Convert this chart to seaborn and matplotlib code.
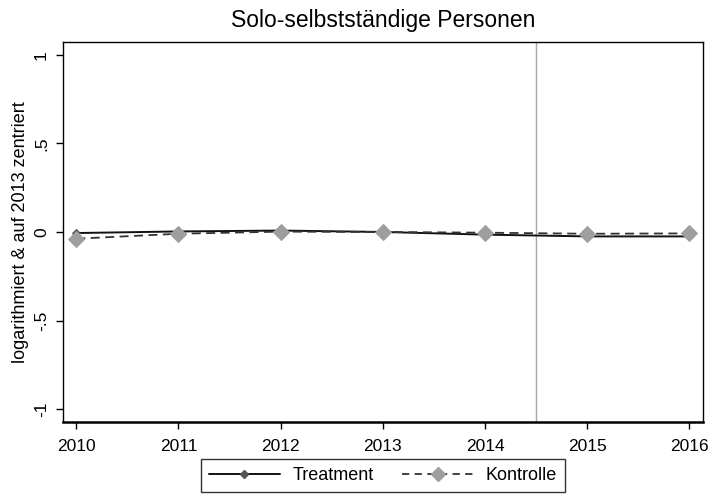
import matplotlib
matplotlib.use("Agg")
import matplotlib.pyplot as plt
import seaborn as sns
import pandas as pd
from matplotlib.lines import Line2D

years = [2010, 2011, 2012, 2013, 2014, 2015, 2016]
treatment = [-0.006, 0.003, 0.008, 0.0, -0.015, -0.025, -0.025]
kontrolle = [-0.038, -0.010, 0.002, 0.0, -0.004, -0.010, -0.008]
yticks = [-1, -0.5, 0, 0.5, 1]
yticklabels = ["-1", "-.5", "0", ".5", "1"]
cutoff = 2014.5

sns.set_theme(style="white")
plt.rcParams["font.family"] = ["Liberation Sans", "DejaVu Sans"]
plt.rcParams["text.color"] = "black"
plt.rcParams["axes.labelcolor"] = "black"
plt.rcParams["xtick.color"] = "black"
plt.rcParams["ytick.color"] = "black"

df_t = pd.DataFrame({"Jahr": years, "Wert": treatment})
df_k = pd.DataFrame({"Jahr": years, "Wert": kontrolle})

fig = plt.figure(figsize=(7.12, 4.97), dpi=100)
ax = fig.add_axes([0.0885, 0.151, 0.8985, 0.7645])

t_col, t_mk = "#111111", "#555555"
k_col, k_mk = "#333333", "#9e9e9e"

sns.lineplot(data=df_k, x="Jahr", y="Wert", ax=ax, color=k_col, lw=1.3,
             linestyle=(0, (5, 3)), marker="D", markersize=8,
             markerfacecolor=k_mk, markeredgecolor=k_mk, zorder=3)
sns.lineplot(data=df_t, x="Jahr", y="Wert", ax=ax, color=t_col, lw=1.4,
             marker="D", markersize=4.5, markerfacecolor=t_mk,
             markeredgecolor=t_mk, zorder=2)

ax.axvline(cutoff, color="#a8a8a8", lw=1, zorder=1)

ax.set_xlim(2009.87, 2016.13)
ax.set_ylim(-1.073, 1.073)
ax.set_xticks(years)
ax.set_xticklabels([str(y) for y in years], fontsize=12.5)
ax.set_yticks(yticks)
ax.set_yticklabels(yticklabels, fontsize=12.5, rotation=90, va="center")
ax.tick_params(axis="x", direction="out", length=5, width=1,
               color="black", labelcolor="black", bottom=True, pad=7)
ax.tick_params(axis="y", direction="out", length=5, width=1,
               color="black", labelcolor="black", left=True, pad=5)
ax.set_xlabel("")
ax.set_ylabel("logarithmiert & auf 2013 zentriert", fontsize=13,
              labelpad=4, color="black")
ax.set_title("Solo-selbstständige Personen", fontsize=16.5, pad=11,
             color="black")

for s in ax.spines.values():
    s.set_color("black")
    s.set_linewidth(1)
ax.spines["bottom"].set_linewidth(1.8)

handles = [
    Line2D([], [], color=t_col, lw=1.4, marker="D", markersize=4.5,
           markerfacecolor=t_mk, markeredgecolor=t_mk),
    Line2D([], [], color=k_col, lw=1.3, linestyle=(0, (4, 3)), marker="D",
           markersize=7, markerfacecolor=k_mk, markeredgecolor=k_mk),
]
leg = ax.legend(handles, ["Treatment", "Kontrolle"], loc="upper center",
                bbox_to_anchor=(0.5, -0.097), ncol=2, frameon=True,
                fancybox=False, edgecolor="black", fontsize=13,
                handlelength=3.9, handletextpad=0.7, columnspacing=1.6,
                borderpad=0.45, borderaxespad=0)
leg.get_frame().set_linewidth(1)
for txt in leg.get_texts():
    txt.set_color("black")

fig.savefig("out.png", dpi=100)
